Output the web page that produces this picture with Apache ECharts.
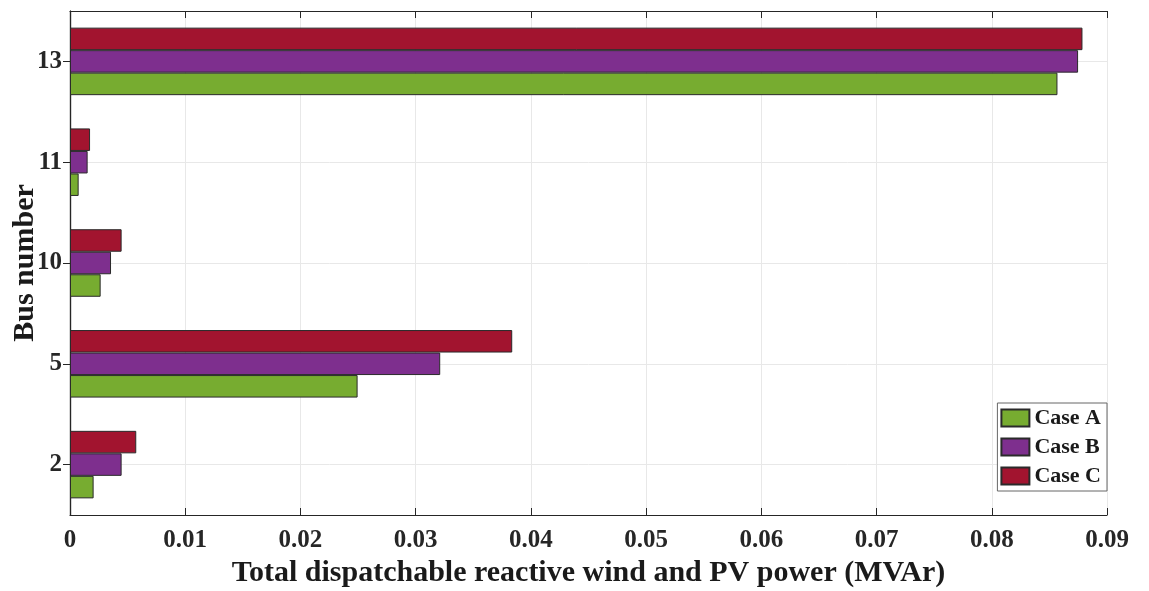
<!DOCTYPE html>
<html>
<head>
<meta charset="utf-8">
<script src="https://cdn.jsdelivr.net/npm/echarts@6/dist/echarts.min.js"></script>
<style>html,body{margin:0;padding:0;background:#fff;}#c{width:1149px;height:591px;}</style>
</head>
<body>
<div id="c"></div>
<script>
const buses = ['2', '5', '10', '11', '13'];
const caseA = [0.00205, 0.02496, 0.00266, 0.00075, 0.0857];
const caseB = [0.00448, 0.03213, 0.00356, 0.00153, 0.08749];
const caseC = [0.00575, 0.03838, 0.00448, 0.00174, 0.08787];
const seriesNames = ['Case A', 'Case B', 'Case C'];
const colors = ['#77AC30', '#7E2F8E', '#A2142F'];
const xMin = 0, xMax = 0.09, xStep = 0.01;

const font = '"Liberation Serif", "Times New Roman", serif';
const chart = echarts.init(document.getElementById('c'));
// Case C listed first so that it sits at the top of each group, Case A at the bottom
const barSeries = [caseC, caseB, caseA].map((d, k) => {
  const i = 2 - k;
  return {
    name: seriesNames[i], type: 'bar', data: d, z: 3,
    barGap: '0%', barCategoryGap: '33%',
    itemStyle: { color: colors[i], borderColor: '#2a2a2a', borderWidth: 1 }
  };
});
chart.setOption({
  animation: false,
  backgroundColor: '#fff',
  grid: { left: 70, right: 42, top: 11, bottom: 76, containLabel: false, outerBoundsMode: 'none' },
  legend: {
    data: seriesNames, orient: 'vertical', right: 42, top: 403,
    icon: 'rect', itemWidth: 28, itemHeight: 17, itemGap: 7,
    padding: [4, 6, 4, 3], backgroundColor: '#fff',
    borderColor: '#666', borderWidth: 1,
    textStyle: { fontFamily: font, fontWeight: 'bold', fontSize: 22, color: '#1a1a1a' }
  },
  xAxis: [{
    type: 'value', min: xMin, max: xMax, interval: xStep, position: 'bottom',
    name: 'Total dispatchable reactive wind and PV power (MVAr)',
    nameLocation: 'middle', nameGap: 43,
    nameTextStyle: { fontFamily: font, fontWeight: 'bold', fontSize: 30, color: '#1a1a1a' },
    axisLine: { show: true, lineStyle: { color: '#262626', width: 1.2 } },
    axisTick: { show: true, inside: true, length: 7, lineStyle: { color: '#262626' } },
    axisLabel: { fontFamily: font, fontWeight: 'bold', fontSize: 25, color: '#262626', margin: 13,
      formatter: v => (v === 0 ? '0' : String(+v.toFixed(2))) },
    splitLine: { show: true, lineStyle: { color: '#e8e8e8', width: 1 } }
  }, {
    type: 'value', min: xMin, max: xMax, interval: xStep, position: 'top',
    axisLine: { show: true, lineStyle: { color: '#262626', width: 1.2 } },
    axisTick: { show: true, inside: true, length: 7, lineStyle: { color: '#262626' } },
    axisLabel: { show: false }, splitLine: { show: false }
  }],
  yAxis: [{
    type: 'category', data: buses, position: 'left',
    name: 'Bus number', nameLocation: 'middle', nameGap: 30, nameMoveOverlap: false,
    nameTextStyle: { fontFamily: font, fontWeight: 'bold', fontSize: 30, color: '#1a1a1a' },
    axisLine: { show: true, lineStyle: { color: '#262626', width: 1.2 } },
    axisTick: { show: true, inside: true, alignWithLabel: true, length: 7, lineStyle: { color: '#262626' } },
    axisLabel: { fontFamily: font, fontWeight: 'bold', fontSize: 25, color: '#262626', margin: 8 },
    splitLine: { show: false }
  }, {
    type: 'category', data: buses, position: 'right',
    axisLine: { show: true, lineStyle: { color: '#262626', width: 1.2 } },
    axisTick: { show: true, inside: true, alignWithLabel: true, length: 7, lineStyle: { color: '#262626' } },
    axisLabel: { show: false }, splitLine: { show: false }
  }],
  series: [{
    name: 'grid', type: 'line', data: [], z: 1, silent: true,
    markLine: {
      silent: true, z: 1, symbol: 'none', label: { show: false },
      lineStyle: { color: '#e8e8e8', type: 'solid', width: 1 },
      data: buses.map(b => ({ yAxis: b }))
    }
  }].concat(barSeries)
});
</script>
</body>
</html>
